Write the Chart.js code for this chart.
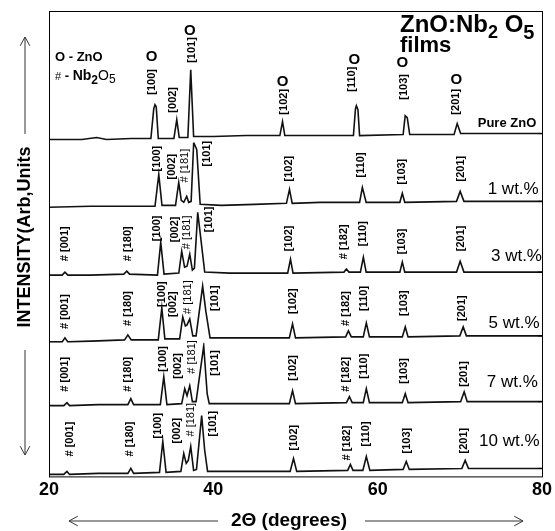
<!DOCTYPE html>
<html>
<head>
<meta charset="utf-8">
<script src="https://cdn.jsdelivr.net/npm/chart.js@4.4.1/dist/chart.umd.min.js"></script>
<style>
  html, body { margin: 0; padding: 0; background: #fff; }
  #xrd { display: block; }
</style>
</head>
<body>
<canvas id="xrd" width="555" height="531"></canvas>
<script>
// XRD patterns, [2theta (deg), intensity (a.u.)], one stacked panel per sample
const sampleNames = ['Pure ZnO', '1 wt.%', '3 wt.%', '5 wt.%', '7 wt.%', '10 wt.%'];
const xTicks = [20, 40, 60, 80];

const pureZnO = [
  [20, -3], [24, -3], [25.8, -1], [27, -3], [30, -2], [32.4, -2], [32.75, 28], [32.9, 32], [33.05, 30], [33.3, -2],
  [35.2, -2], [35.55, 17], [35.85, -1], [36.9, -1], [37.25, 67], [37.6, 0], [40, 0], [44, 1], [48.1, 1], [48.42, 15],
  [48.7, 1], [52, 1], [57.05, 1], [57.3, 28], [57.41, 31], [57.6, 27], [57.8, 1], [63.1, 2], [63.35, 21], [63.6, 19],
  [63.9, 2], [69.3, 2], [69.68, 13], [70.1, 3], [75, 3], [80, 3]
];
const wt1 = [
  [20, -4], [25, -3], [30, -3], [32.9, -3], [33.36, 29], [33.75, -2], [35.4, -2], [35.79, 21], [36.1, 3], [36.4, 1],
  [36.76, 7], [37.0, 1], [37.3, 2], [37.61, 61], [37.98, 54], [38.4, -1], [41, -2], [45, -1], [48.9, 0], [49.27, 14],
  [49.6, 0], [53, 1], [57.8, 1], [58.14, 16], [58.6, 1], [62.7, 1], [63.0, 10], [63.3, 1], [69.6, 2], [70.04, 12],
  [70.5, 2], [75, 2], [80, 2]
];
const wt3 = [
  [20, -5], [21.6, -5], [21.94, -2], [22.3, -5], [25, -5], [29.1, -4], [29.47, -1], [29.8, -4], [33.2, -5], [33.6, 28],
  [34.0, -4], [35.8, -3], [36.15, 19], [36.5, 3], [36.8, 4], [37.13, 16], [37.45, 0], [37.7, 2], [38.1, 58], [38.5, 30],
  [38.95, -2], [42, -3], [46, -3], [49.05, -3], [49.39, 11], [49.7, -3], [55.9, -2], [56.2, 1], [56.5, -2], [57.9, -2],
  [58.26, 13], [58.6, -2], [62.7, -2], [63.0, 8], [63.3, -2], [69.6, -2], [70.04, 9], [70.5, -2], [75, -2], [80, -2]
];
const wt5 = [
  [20, -5], [21.6, -5], [21.94, -1], [22.3, -5], [26, -4], [29.2, -3], [29.6, 2], [30.0, -3], [33.3, -3], [33.73, 29],
  [34.1, -2], [35.9, -2], [36.28, 20], [36.6, 11], [36.8, 12], [37.13, 18], [37.5, 1], [37.9, 1], [38.7, 51], [39.1, 25],
  [39.6, -1], [43, -1], [49.25, -1], [49.64, 13], [50.0, -1], [56.1, 0], [56.44, 6], [56.8, 0], [58.25, 0], [58.62, 14],
  [59.0, 0], [63.0, 0], [63.36, 10], [63.7, 0], [70.0, 1], [70.41, 10], [70.8, 1], [75, 1], [80, 1]
];
const wt7 = [
  [20, -2], [21.8, -2], [22.19, 1], [22.5, -2], [26, -1], [29.6, -1], [29.96, 5], [30.3, -1], [33.55, -1], [33.97, 27],
  [34.35, -1], [36.15, 0], [36.52, 15], [36.8, 8], [37.13, 18], [37.45, 2], [37.9, 2], [38.83, 58], [39.25, 10], [39.5, 0],
  [43, 0], [49.25, 0], [49.64, 13], [50.0, 0], [56.2, 1], [56.56, 7], [56.9, 1], [58.25, 1], [58.62, 15], [59.0, 1],
  [63.0, 1], [63.36, 10], [63.7, 1], [70.1, 2], [70.53, 12], [70.9, 2], [75, 2], [80, 2]
];
const wt10 = [
  [20, -4], [21.8, -4], [22.19, -1], [22.5, -4], [26, -3], [29.6, -3], [29.96, 2], [30.3, -3], [33.45, -2], [33.85, 29],
  [34.25, -2], [36.05, -1], [36.4, 17], [36.7, 7], [36.95, 10], [37.25, 24], [37.6, 0], [37.95, 1], [38.58, 55], [38.95, 20],
  [39.3, -1], [43, -1], [49.35, -1], [49.76, 12], [50.15, -1], [56.35, 0], [56.68, 6], [57.0, 0], [58.2, 0], [58.62, 14],
  [59.05, 0], [63.1, 1], [63.48, 9], [63.85, 1], [70.25, 2], [70.65, 10], [71.05, 2], [75, 2], [80, 2]
];
const patterns = [pureZnO, wt1, wt3, wt5, wt7, wt10];

// reflection tags: [2theta, level where the rotated tag starts, text]
const reflexTags = [
  [[32.51, 42, '[100]'], [35.06, 24, '[002]'], [37.37, 74, '[101]'], [48.54, 22, '[102]'], [56.92, 45, '[110]'], [63.24, 37, '[103]'], [69.56, 22, '[201]']],
  [[33.12, 32, '[100]'], [34.94, 24, '[002]'], [36.52, 21, '# [181]'], [39.19, 37, '[101]'], [49.15, 22, '[102]'], [58.02, 26, '[110]'], [63.0, 19, '[103]'], [70.16, 22, '[201]']],
  [[21.94, 9, '# [001]'], [29.6, 9, '# [180]'], [33.12, 29, '[100]'], [35.3, 28, '[002]'], [36.76, 21, '# [181]'], [39.43, 38, '[101]'], [49.15, 19, '[102]'], [55.95, 11, '# [182]'], [58.26, 24, '[110]'], [63.0, 16, '[103]'], [70.16, 19, '[201]']],
  [[21.94, 8, '# [001]'], [29.6, 11, '# [180]'], [33.73, 30, '[100]'], [35.06, 20, '[002]'], [36.88, 23, '# [181]'], [40.16, 26, '[101]'], [49.64, 23, '[102]'], [56.2, 11, '# [182]'], [58.38, 26, '[110]'], [63.24, 21, '[103]'], [70.29, 16, '[201]']],
  [[21.94, 12, '# [001]'], [29.6, 12, '# [180]'], [33.85, 32, '[100]'], [35.67, 25, '[002]'], [37.37, 30, '# [181]'], [40.16, 28, '[101]'], [49.64, 23, '[102]'], [56.2, 12, '# [182]'], [58.38, 25, '[110]'], [63.24, 20, '[103]'], [70.53, 17, '[201]']],
  [[22.55, 14, '# [001]'], [29.84, 14, '# [180]'], [33.24, 32, '[100]'], [35.55, 27, '[002]'], [37.25, 34, '# [181]'], [39.92, 34, '[101]'], [49.76, 20, '[102]'], [56.32, 10, '# [182]'], [58.62, 24, '[110]'], [63.6, 17, '[103]'], [70.53, 17, '[201]']]
];
// ZnO markers over the pure film pattern: [2theta, level]
const znoMarks = [[32.5, 80], [37.13, 106], [48.42, 55], [57.16, 77], [63.0, 74], [69.56, 57]];
// sample name placement: [2theta of right edge, level]
const nameTags = [[79.3, 13], [79.6, 14], [80.0, 14], [79.7, 14], [79.5, 21], [79.7, 29]];

const FONT = '"Liberation Sans", Arial, sans-serif';
const INK = '#000';

const datasets = patterns.map((pts, i) => ({
  label: sampleNames[i],
  data: pts,
  yAxisID: 'p' + i,
  showLine: true,
  borderColor: '#111',
  borderWidth: 1.6,
  pointRadius: 0,
  tension: 0
}));

const scales = {
  x: {
    type: 'linear', min: 20, max: 80, position: 'bottom',
    grid: { display: false, drawTicks: false },
    border: { display: false },
    afterBuildTicks: (s) => { s.ticks = xTicks.map(v => ({ value: v })); },
    ticks: { color: INK, padding: 3, font: { family: FONT, size: 18, weight: 'bold' } }
  }
};
// left stacked axes: the last one declared ends up on top
for (let i = patterns.length - 1; i >= 0; i--) {
  scales['p' + i] = {
    type: 'linear', display: false, position: 'left', stack: 'xrd',
    stackWeight: i === 0 ? 1.97 : 1, min: -6, max: i === 0 ? 126 : 61
  };
}

function arrow(ctx, x1, y1, x2, y2) {
  const ang = Math.atan2(y2 - y1, x2 - x1), len = 10, spread = 0.5;
  ctx.beginPath();
  ctx.moveTo(x1, y1); ctx.lineTo(x2, y2);
  ctx.moveTo(x2 - len * Math.cos(ang - spread), y2 - len * Math.sin(ang - spread));
  ctx.lineTo(x2, y2);
  ctx.lineTo(x2 - len * Math.cos(ang + spread), y2 - len * Math.sin(ang + spread));
  ctx.stroke();
}

// writes text pieces one after another: [text, font, dy]
function runs(ctx, x, y, parts) {
  ctx.textAlign = 'left';
  ctx.textBaseline = 'alphabetic';
  parts.forEach(([t, f, dy]) => {
    ctx.font = f;
    ctx.fillText(t, x, y + (dy || 0));
    x += ctx.measureText(t).width;
  });
}

const decor = {
  id: 'decor',
  afterDatasetsDraw(chart) {
    const { ctx, chartArea: a, scales: sc } = chart;
    const xs = sc.x;
    ctx.save();
    ctx.strokeStyle = INK;
    ctx.fillStyle = INK;
    ctx.lineWidth = 1;
    ctx.strokeRect(a.left + 0.5, a.top + 0.5, a.right - a.left, a.bottom - a.top);

    // baseline ticks on the right frame
    patterns.forEach((pts, i) => {
      const y = sc['p' + i].getPixelForValue(pts[pts.length - 1][1]);
      ctx.beginPath(); ctx.moveTo(a.right - 4, y); ctx.lineTo(a.right + 1, y); ctx.stroke();
    });

    // reflection tags, written upward
    reflexTags.forEach((tags, i) => {
      const ys = sc['p' + i];
      tags.forEach(([tt, lvl, txt]) => {
        ctx.save();
        ctx.translate(xs.getPixelForValue(tt), ys.getPixelForValue(lvl));
        ctx.rotate(-Math.PI / 2);
        ctx.textAlign = 'left';
        ctx.textBaseline = 'middle';
        const thin = txt.indexOf('181') >= 0;
        ctx.font = (thin ? 'normal ' : 'bold ') + '11px ' + FONT;
        ctx.fillText(txt, 0, 0);
        ctx.restore();
      });
    });

    // O markers for ZnO lines
    ctx.font = 'bold 15px ' + FONT;
    ctx.textAlign = 'center';
    ctx.textBaseline = 'middle';
    znoMarks.forEach(([tt, lvl]) => {
      ctx.fillText('O', xs.getPixelForValue(tt), sc.p0.getPixelForValue(lvl));
    });

    // sample names
    ctx.textAlign = 'right';
    nameTags.forEach(([tt, lvl], i) => {
      ctx.font = (i === 0 ? 'bold 13px ' : 'normal 17px ') + FONT;
      ctx.fillText(sampleNames[i], xs.getPixelForValue(tt), sc['p' + i].getPixelForValue(lvl));
    });

    // legend
    runs(ctx, 55, 61, [['O - ZnO', 'bold 13px ' + FONT]]);
    runs(ctx, 55, 80, [['#', 'normal 11px ' + FONT], [' - ', 'bold 13px ' + FONT], ['Nb', 'bold 14px ' + FONT],
      ['2', 'bold 12px ' + FONT, 4], ['O', 'normal 14px ' + FONT], ['5', 'normal 12px ' + FONT, 3]]);

    // title
    runs(ctx, 400, 32, [['ZnO:Nb', 'bold 24px ' + FONT], ['2', 'bold 18px ' + FONT, 6], [' O', 'bold 24px ' + FONT], ['5', 'bold 20px ' + FONT, 7]]);
    runs(ctx, 400, 52, [['films', 'bold 22px ' + FONT]]);

    // axis titles with arrows
    ctx.font = 'bold 19px ' + FONT;
    ctx.textAlign = 'center';
    ctx.textBaseline = 'middle';
    ctx.fillText('2\u0398 (degrees)', 289, 521);
    ctx.save();
    ctx.translate(25, 237);
    ctx.rotate(-Math.PI / 2);
    ctx.font = 'bold 18px ' + FONT;
    ctx.fillText('INTENSITY(Arb,Units', 0, 0);
    ctx.restore();

    ctx.strokeStyle = '#333';
    arrow(ctx, 218, 521, 69, 521);
    arrow(ctx, 365, 521, 523, 521);
    arrow(ctx, 25, 134, 25, 37);
    arrow(ctx, 25, 350, 25, 455);
    ctx.restore();
  }
};

new Chart(document.getElementById('xrd'), {
  type: 'scatter',
  data: { datasets },
  options: {
    responsive: false,
    animation: false,
    devicePixelRatio: 1,
    layout: { padding: { left: 49, right: 12, top: 11, bottom: 27 } },
    plugins: { legend: { display: false }, tooltip: { enabled: false } },
    scales
  },
  plugins: [decor]
});
</script>
</body>
</html>
